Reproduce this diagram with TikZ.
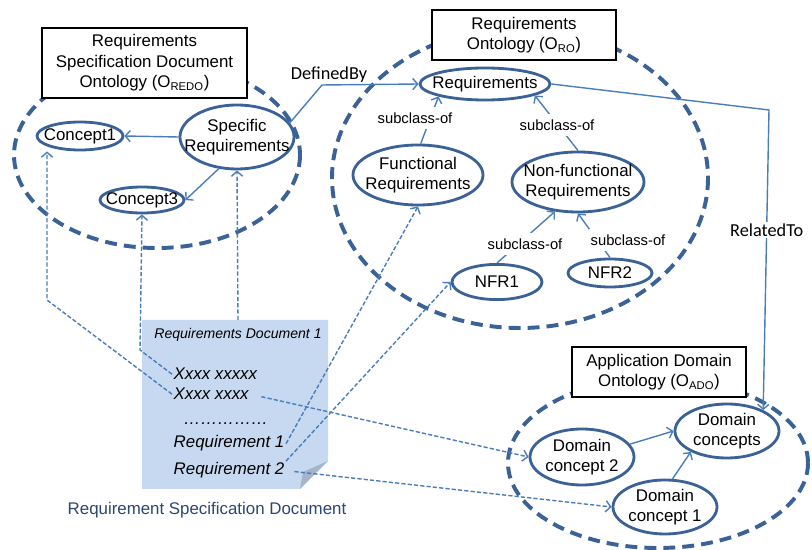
\documentclass[tikz,border=0pt]{standalone}
\usepackage{fontspec}
\setmainfont{Liberation Sans}
\newfontfamily\calibri{Carlito}
\usetikzlibrary{shapes.geometric,arrows.meta}
\definecolor{ontoline}{HTML}{3B6296}
\definecolor{linkblue}{HTML}{4A7EBB}
\definecolor{docfill}{HTML}{C6D9F1}
\definecolor{docfold}{HTML}{A5B4C9}
\definecolor{captionblue}{HTML}{2C4770}

\begin{document}
\begin{tikzpicture}[x=0.025cm, y=-0.025cm,
	font=\fontsize{12}{14.5}\selectfont,
	concept/.style={ellipse, draw=ontoline, line width=2pt, fill=white, inner xsep=-14pt, inner ysep=-7pt, align=center},
	ontology/.style={draw=ontoline, line width=2.8pt, dash pattern=on 8.5pt off 5pt},
	titlebox/.style={draw=black, line width=0.9pt, fill=white, align=center, inner sep=0pt},
	rel/.style={draw=linkblue, line width=1pt, -{Straight Barb[length=3.5pt,width=8pt]}},
	docref/.style={draw=linkblue, line width=1pt, dash pattern=on 3pt off 1.5pt, -{Straight Barb[length=3.5pt,width=8pt]}},
	sublabel/.style={fill=white, inner xsep=1pt, inner ysep=4pt, font=\fontsize{10.5}{12}\selectfont},
	namelabel/.style={inner sep=1pt, font=\calibri\fontsize{13}{15}\selectfont},
	doctext/.style={inner sep=1pt, font=\itshape\fontsize{12}{14}\selectfont}]
	\useasboundingbox (0,0) rectangle (812,550);
	\draw[ontology] (157,155) ellipse [x radius=143, y radius=93];
	\draw[ontology] (520,178) ellipse [x radius=188, y radius=150];
	\draw[ontology] (658,463) ellipse [x radius=150, y radius=85];
	\node[titlebox, minimum width=5.125cm, minimum height=1.75cm] (redobox) at (144.5,63) {Requirements\\Specification Document\\Ontology (O\textsubscript{REDO})};
	\node[titlebox, minimum width=4.6cm, minimum height=1.25cm] (robox) at (524,35) {Requirements\\Ontology (O\textsubscript{RO})};
	\node[titlebox, minimum width=4.35cm, minimum height=1.25cm] (adobox) at (659,372) {Application Domain\\Ontology (O\textsubscript{ADO})};
	\fill[docfill] (142,320) -- (328,320) -- (328,461) -- (300,489) -- (142,489) -- cycle;
	\fill[docfold] (300,489) -- (328,461) -- (303,472) -- cycle;
	\node[concept, minimum width=2.15cm, minimum height=0.7cm] (concept1) at (80,136) {Concept1};
	\node[concept, minimum width=2.85cm, minimum height=1.6cm] (specreq) at (237,137) {Specific\\Requirements};
	\node[concept, minimum width=2.1cm, minimum height=0.65cm] (concept3) at (142,200) {Concept3};
	\node[concept, minimum width=3.25cm, minimum height=0.8cm] (req) at (485,84) {Requirements};
	\node[concept, minimum width=3.25cm, minimum height=1.5cm] (funcreq) at (418,175) {Functional\\Requirements};
	\node[concept, minimum width=3.3cm, minimum height=1.5cm] (nonfuncreq) at (578,182) {Non-functional\\Requirements};
	\node[concept, minimum width=2.25cm, minimum height=0.88cm] (nfr1) at (497,282) {NFR1};
	\node[concept, minimum width=2.1cm, minimum height=0.7cm] (nfr2) at (610,273) {NFR2};
	\node[concept, minimum width=2.6cm, minimum height=1.4cm] (domconcept2) at (582,457) {Domain\\concept 2};
	\node[concept, minimum width=2.6cm, minimum height=1.35cm] (domconcepts) at (727,431) {Domain\\concepts};
	\node[concept, minimum width=2.6cm, minimum height=1.35cm] (domconcept1) at (665,507) {Domain\\concept 1};
	\node[doctext, font=\itshape\fontsize{10}{12}\selectfont, anchor=base] (doctitle) at (238,339) {Requirements Document 1};
	\node[doctext, anchor=base west] (xline1) at (172,380) {Xxxx xxxxx};
	\node[doctext, anchor=base west] (xline2) at (172,400) {Xxxx xxxx};
	\node[doctext, anchor=base west] (dotline) at (182,425) {……………};
	\node[doctext, anchor=base west] (req1) at (172,448) {Requirement 1};
	\node[doctext, anchor=base west] (req2) at (172,475) {Requirement 2};
	\node[anchor=base, text=captionblue] (caption) at (207,515) {Requirement Specification Document};
	\coordinate (doctop) at (238,320);
	\coordinate (bendc1) at (47,300);
	\coordinate (bendc3) at (140,350);
	\coordinate (benddef) at (322,85);
	\coordinate (bendrel) at (769,110);
	\draw[docref] (xline2.west) -- (bendc1) -- (bendc1 |- concept1.south);
	\draw[docref] (xline1.west) -- (bendc3) -- (concept3.south);
	\draw[docref] (doctop) -- (specreq.south);
	\draw[docref] (req1.east) -- (funcreq.south);
	\draw[docref] (req2.north east) -- (nfr1.west);
	\draw[docref, shorten <=8pt] (xline2.east) -- (domconcept2.west);
	\draw[docref, shorten <=6pt] (req2.east) -- (domconcept1.west);
	\draw[rel] (specreq.west) -- (concept1.east);
	\draw[rel] (specreq.240) -- (concept3.east);
	\draw[rel] (specreq.15) -- (benddef) -- (req.west);
	\node[namelabel, anchor=base] (definedby) at (329,80) {DefinedBy};
	\draw[rel] (req.east) -- (bendrel) -- node[namelabel, fill=white, pos=0.4] (relatedto) {RelatedTo} (domconcepts.30);
	\draw[rel] (funcreq.85) -- (req.195);
	\node[sublabel] (sub1) at (415,118) {subclass-of};
	\draw[rel] (nonfuncreq.north) -- (req.347);
	\node[sublabel] (sub2) at (557,125) {subclass-of};
	\draw[rel] (nfr1.north) -- (nonfuncreq.232);
	\node[sublabel] (sub3) at (525,244) {subclass-of};
	\draw[rel] (nfr2.north) -- (nonfuncreq.south);
	\node[sublabel] (sub4) at (628,240) {subclass-of};
	\draw[rel] (domconcept2.15) -- (domconcepts.west);
	\draw[rel] (domconcept1.75) -- (domconcepts.210);
\end{tikzpicture}
\end{document}
